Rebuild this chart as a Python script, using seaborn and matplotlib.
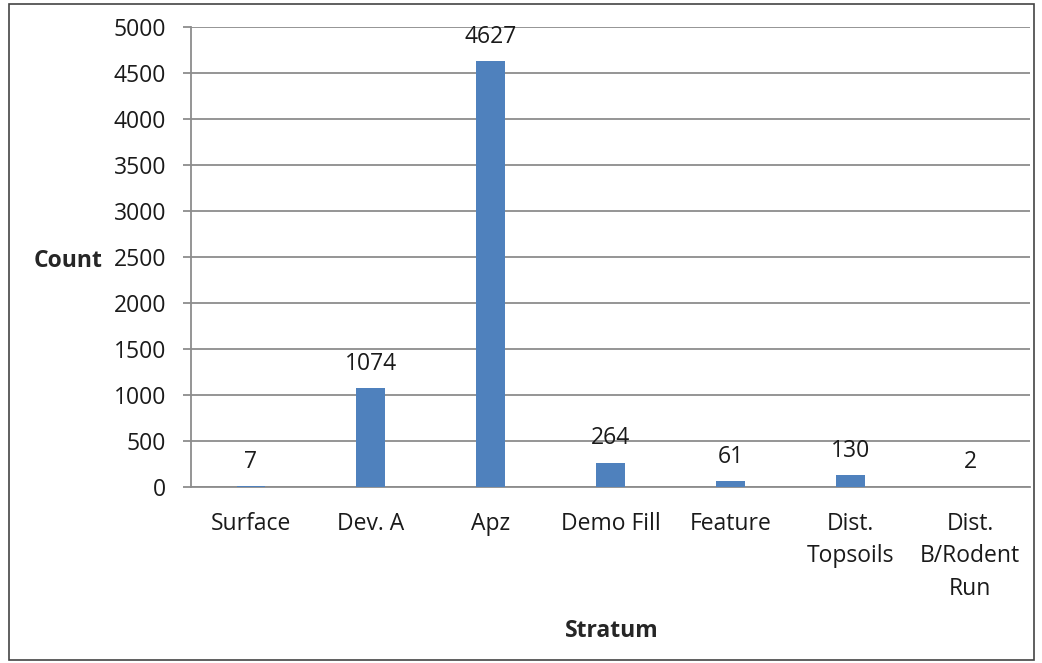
import matplotlib
matplotlib.use("Agg")
import matplotlib.pyplot as plt
import seaborn as sns
import pandas as pd

# data
strata = ["Surface", "Dev. A", "Apz", "Demo Fill", "Feature", "Dist.\nTopsoils", "Dist.\nB/Rodent\nRun"]
counts = [7, 1074, 4627, 264, 61, 130, 2]
y_ticks = list(range(0, 5001, 500))

df = pd.DataFrame({"Stratum": strata, "Count": counts})

sns.set_style("white")
plt.rcParams["font.family"] = ["Open Sans", "DejaVu Sans"]
FS = 16.5

fig = plt.figure(figsize=(10.42, 6.63), dpi=100)
ax = fig.add_axes([0.1833, 0.2655, 0.8052, 0.6938])

sns.barplot(data=df, x="Stratum", y="Count", color="#4F81BD", width=0.24,
            saturation=1, linewidth=0, ax=ax, zorder=3)

ax.set_ylim(0, 5000)
ax.set_yticks(y_ticks)
ax.set_xlim(-0.5, len(strata) - 0.5)
ax.yaxis.grid(True, color="#8c8c8c", linewidth=1.3, zorder=0)
ax.set_axisbelow(True)

for s in ["top", "right"]:
    ax.spines[s].set_visible(False)
for s in ["left", "bottom"]:
    ax.spines[s].set_color("#8c8c8c")
    ax.spines[s].set_linewidth(1.3)

ax.tick_params(axis="y", length=6, width=1.3, color="#8c8c8c", labelsize=FS,
               labelcolor="#1a1a1a", pad=12, left=True)
ax.tick_params(axis="x", length=0, labelsize=FS, labelcolor="#1a1a1a", pad=18)
for lbl in ax.get_xticklabels():
    lbl.set_linespacing(1.47)
    lbl.set_verticalalignment("top")

# value labels above bars
for i, v in enumerate(counts):
    ax.annotate(str(v), (i, v), xytext=(0, 9), textcoords="offset points",
                ha="center", va="bottom", fontsize=FS, color="#1a1a1a")

ax.set_xlabel("")
ax.set_ylabel("")
fig.text(0.065, 0.607, "Count", fontsize=FS, fontweight="bold", ha="center", va="center")
fig.text(0.587, 0.048, "Stratum", fontsize=FS, fontweight="bold", ha="center", va="center")

# outer frame like the exported chart area
fig.patches.append(plt.Rectangle((0.009, 0.004), 0.983, 0.99, transform=fig.transFigure,
                                 fill=False, edgecolor="#444444", linewidth=1.2))

fig.savefig("out.png", dpi=100)
